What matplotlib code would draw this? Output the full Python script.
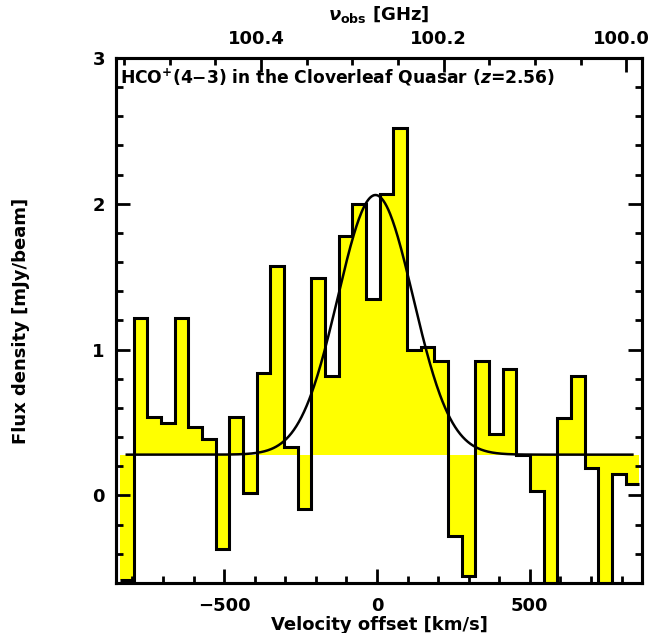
import numpy as np
import matplotlib
matplotlib.use('Agg')
import matplotlib.pyplot as plt
import matplotlib.transforms as mtransforms
from matplotlib.ticker import MultipleLocator

plt.rcParams['font.family'] = 'DejaVu Sans'
plt.rcParams['font.weight'] = 'bold'
plt.rcParams['mathtext.fontset'] = 'dejavusans'

# Flujo por canal (mJy/beam), 38 canales de ~45 km/s
flux = [-0.58, 1.22, 0.54, 0.50, 1.22, 0.47, 0.39, -0.37, 0.54, 0.02,
        0.84, 1.57, 0.33, -0.09, 1.49, 0.82, 1.78, 2.00, 1.35, 2.07,
        2.52, 1.00, 1.02, 0.92, -0.28, -0.55, 0.92, 0.42, 0.87, 0.28,
        0.03, -0.70, 0.53, 0.82, 0.19, -0.70, 0.15, 0.08]

# bordes de los canales en velocidad (km/s)
v_first_edge = -841
v_last_edge = 858
edges = np.linspace(v_first_edge, v_last_edge, len(flux) + 1)
centers = 0.5 * (edges[1:] + edges[:-1])

# ajuste gaussiano + continuo
continuum = 0.28
amp = 1.78
v_center = -5
fwhm = 290

# eje superior: frecuencia observada
nu0 = 100.273  # GHz a v = 0
c_kms = 299792.458

xlim = (-854, 867)
ylim = (-0.6, 3.0)

fig = plt.figure(figsize=(6.49, 6.33), dpi=100)
ax = fig.add_axes([0.1787, 0.079, 0.8105, 0.8295])

# relleno amarillo respecto al continuo
ax.stairs(flux, edges, baseline=continuum, fill=True, color='#ffff00', zorder=1)
# contorno del histograma
ax.stairs(flux, edges, baseline=None, color='black', linewidth=2.2, zorder=2)

# perfil gaussiano
sigma = fwhm / (2 * np.sqrt(2 * np.log(2)))
vv = np.linspace(centers[0], centers[-1], 600)
model = continuum + amp * np.exp(-0.5 * ((vv - v_center) / sigma) ** 2)
ax.plot(vv, model, color='black', linewidth=1.8, zorder=3)

ax.set_xlim(xlim)
ax.set_ylim(ylim)

ax.xaxis.set_major_locator(MultipleLocator(500))
ax.xaxis.set_minor_locator(MultipleLocator(100))
ax.yaxis.set_major_locator(MultipleLocator(1))
ax.yaxis.set_minor_locator(MultipleLocator(0.2))
ax.tick_params(which='both', direction='in', width=2, bottom=True, left=True,
               right=True, top=False, labelsize=13)
ax.tick_params(which='major', length=10)
ax.tick_params(which='minor', length=5)
ax.tick_params(axis='x', pad=10)
ax.tick_params(axis='y', pad=8)
for s in ax.spines.values():
    s.set_linewidth(2.2)

ax.set_xlabel('Velocity offset [km/s]', fontsize=13, fontweight='bold', labelpad=1)
ax.set_ylabel('Flux density [mJy/beam]', fontsize=13, fontweight='bold', labelpad=45)

# eje de frecuencias arriba
ax2 = ax.twiny()
ax2.set_xlim(nu0 * (1 - xlim[0] / c_kms), nu0 * (1 - xlim[1] / c_kms))
ax2.xaxis.set_major_locator(MultipleLocator(0.2))
ax2.xaxis.set_minor_locator(MultipleLocator(0.05))
ax2.xaxis.set_major_formatter(plt.FormatStrFormatter('%.1f'))
ax2.tick_params(which='both', direction='in', width=2, labelsize=13, pad=7)
ax2.tick_params(which='major', length=10)
ax2.tick_params(which='minor', length=5)
ax2.set_xlabel(r'$\nu_{\mathbf{obs}}$ [GHz]', fontsize=13, fontweight='bold', labelpad=7)
for s in ax2.spines.values():
    s.set_linewidth(2.2)

# etiquetas de arriba algo desplazadas a la izquierda
shift = mtransforms.ScaledTranslation(-5 / 100, 0, fig.dpi_scale_trans)
for lab in ax2.get_xticklabels():
    lab.set_transform(lab.get_transform() + shift)

ax.text(0.008, 0.984, r'HCO$^{\mathbf{+}}$(4$\mathbf{-}$3) in the Cloverleaf Quasar ($z$=2.56)',
        transform=ax.transAxes, ha='left', va='top', fontsize=12.3, fontweight='bold')

fig.savefig('out.png', dpi=100)
